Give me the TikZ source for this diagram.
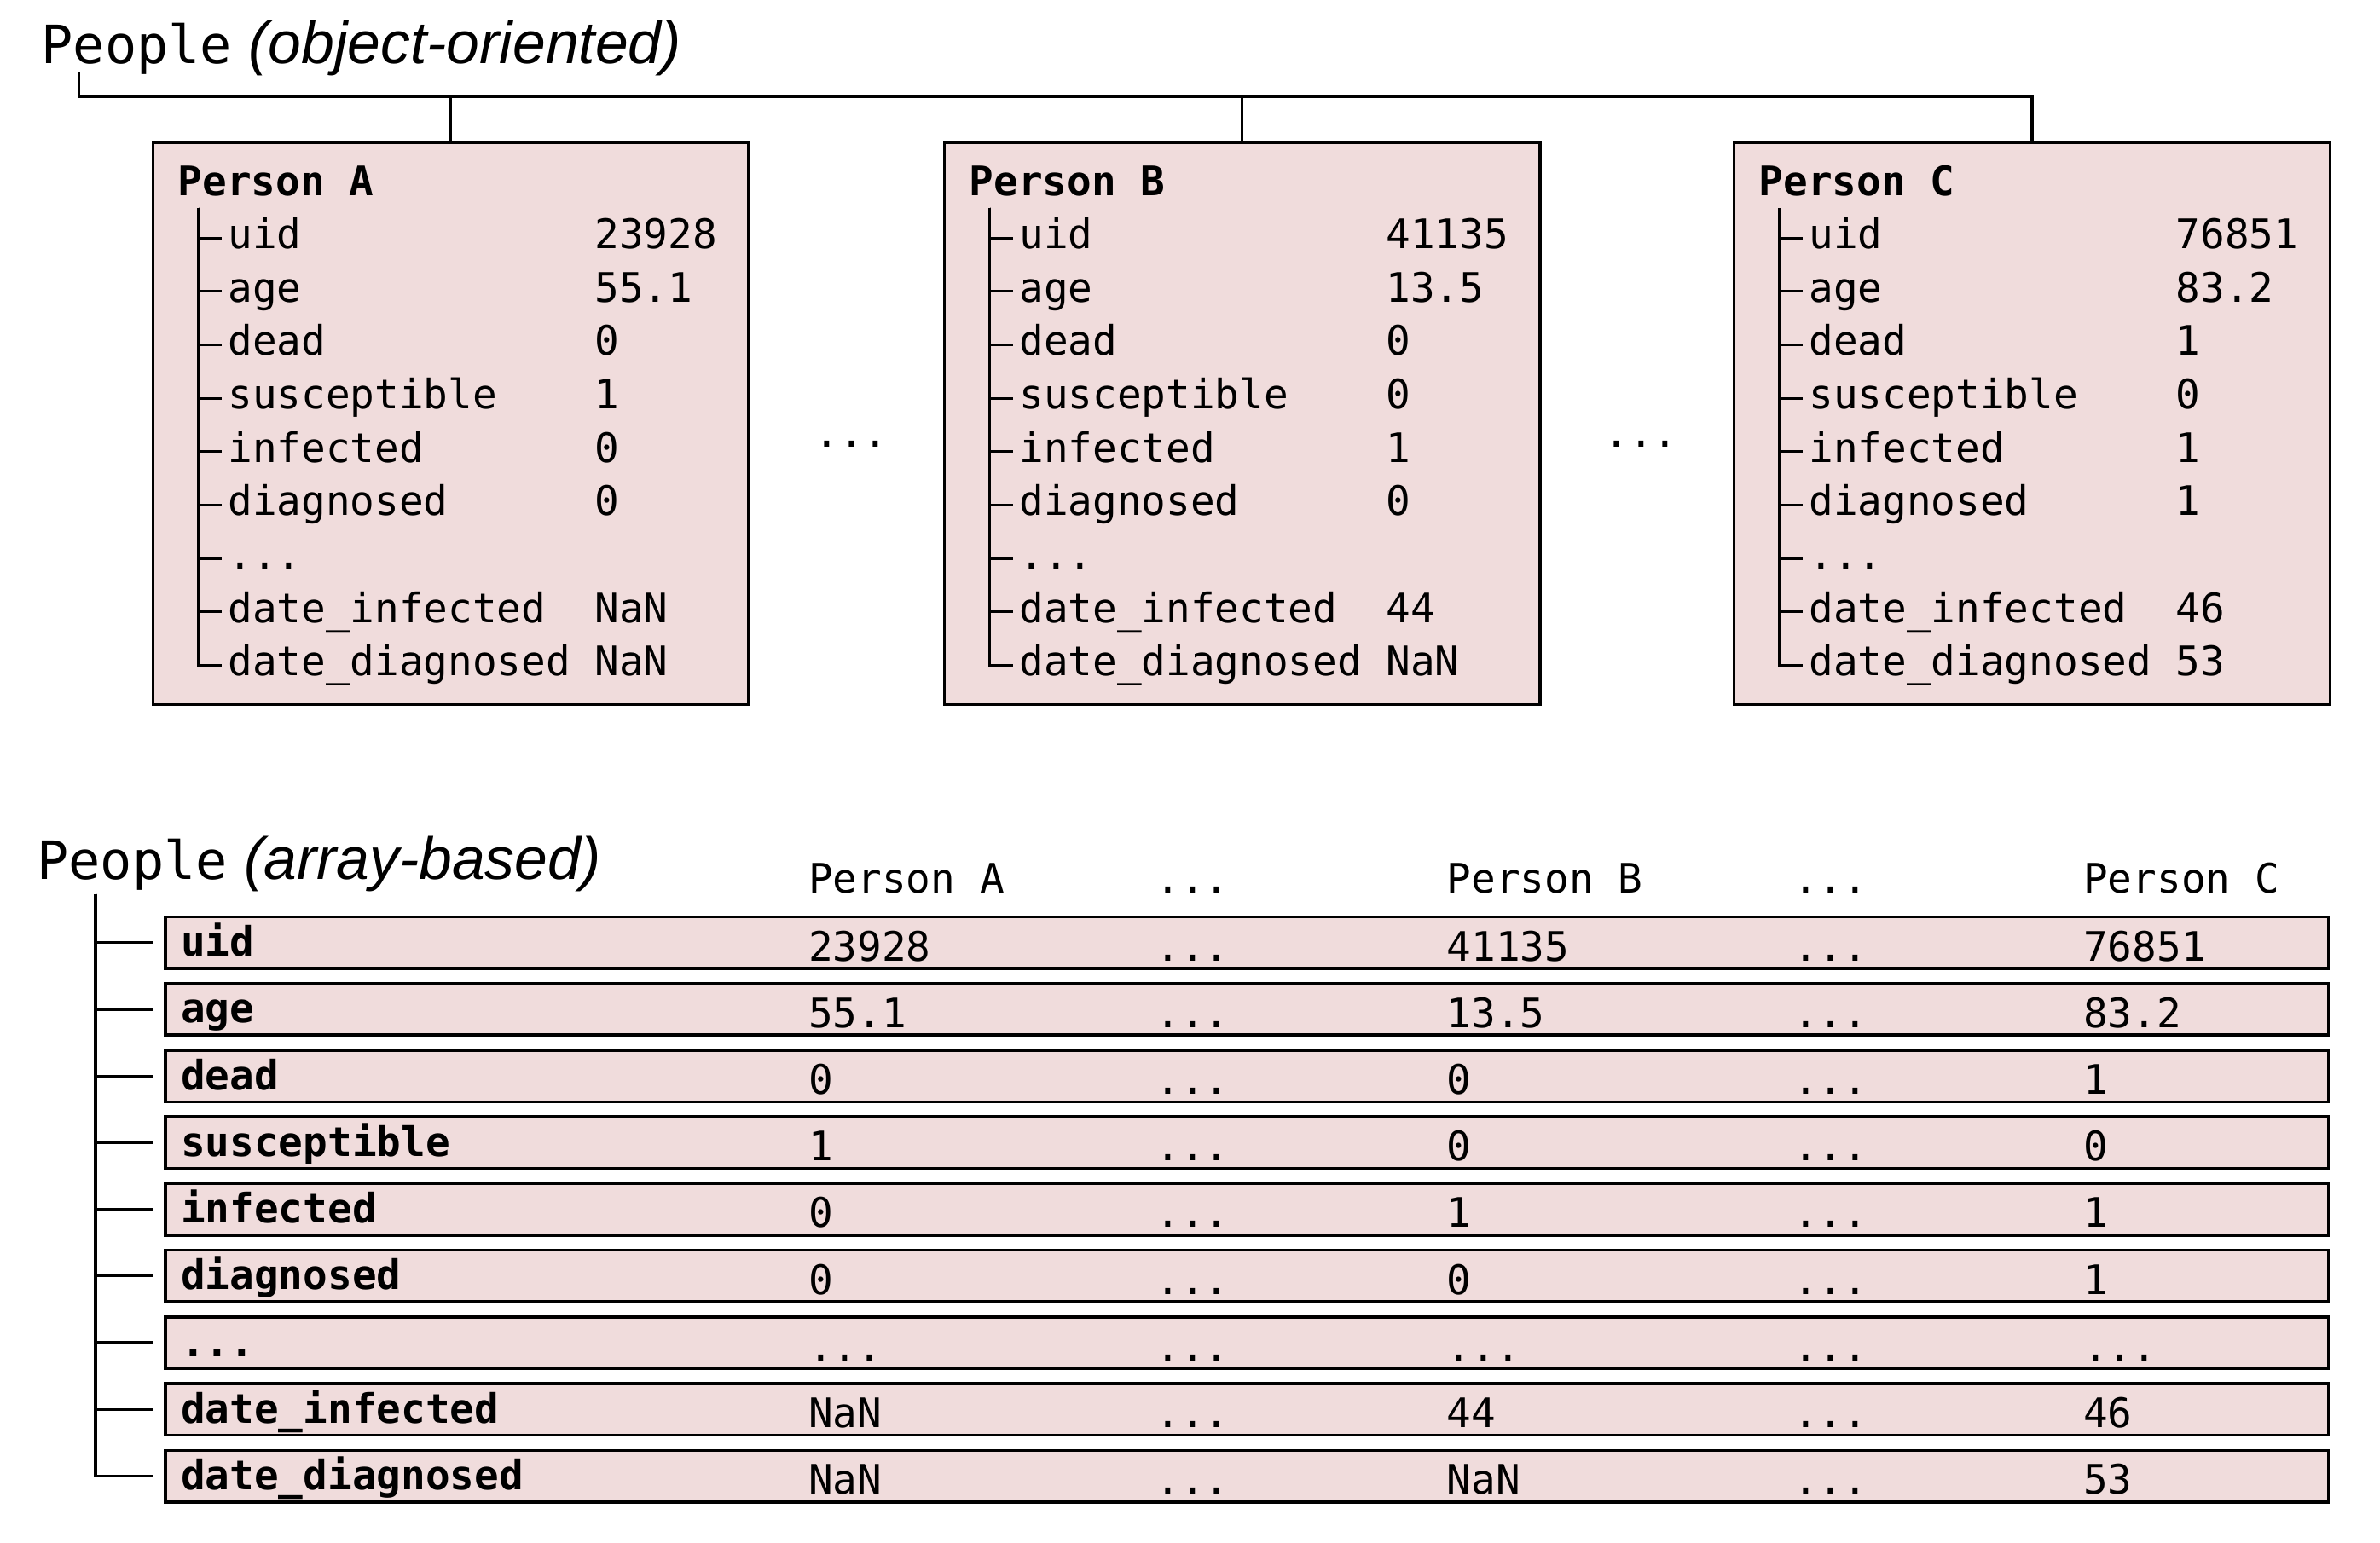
\documentclass[tikz,border=0pt]{standalone}
\usepackage{fontspec}
\setmainfont{Liberation Sans}
\setmonofont{DejaVu Sans Mono}
\usetikzlibrary{positioning}
\definecolor{cellpink}{RGB}{240,220,220}
\newcommand\fieldfont{\fontsize{13.4}{16}\selectfont\ttfamily}
\newcommand\titlefont{\fontsize{17.4}{20}\selectfont\ttfamily}
\newcommand\titleit{\fontsize{19.6}{22}\selectfont\rmfamily\itshape}
\newcommand\skipped{...}
\tikzset{
  txt/.style={anchor=west,inner sep=0pt,text height=10pt,text depth=3pt,font=\fieldfont},
  btxt/.style={txt,font=\fieldfont\bfseries},
  personbox/.style={draw,line width=1pt,fill=cellpink,anchor=north west,inner sep=0pt,minimum width=196.5pt,minimum height=185.5pt},
  rowbox/.style={draw,line width=1pt,fill=cellpink,anchor=north west,inner sep=0pt,minimum width=713.5pt,minimum height=17pt},
  wire/.style={line width=0.9pt}
}
\begin{document}
\begin{tikzpicture}[x=0.5pt,y=-0.5pt]
\useasboundingbox (0,0) rectangle (1570,1018);

\node[anchor=base west,inner sep=0pt] (titleOO) at (27,42) {\titlefont People\titleit\ (object-oriented)};
\coordinate (trunk) at (52,48);
\coordinate (bus) at (52,64);

\foreach \p/\bx in {A/100,B/622,C/1143} {
  \node[personbox] (box\p) at (\bx,93) {};
  \node[btxt] (head\p) at (\bx+17,122) {Person \p};
  \coordinate (tree\p) at (\bx+31,137);
  \foreach \f [count=\k from 0] in {uid,age,dead,susceptible,infected,diagnosed,\skipped,date\_infected,date\_diagnosed} {
    \node[txt] (lab\p\k) at (\bx+50,157+35.25*\k) {\f};
    \draw[wire,shorten >=2pt] (tree\p) |- (lab\p\k.west);
  }
}
\draw[wire] (trunk) -- (bus) -| (boxC.north);
\foreach \p in {A,B}
  \draw[wire] (box\p.north) -- (box\p.north |- bus);

\foreach \p/\bx/\vals in {A/100/{23928,55.1,0,1,0,0,{},NaN,NaN},B/622/{41135,13.5,0,0,1,0,{},44,NaN},C/1143/{76851,83.2,1,0,1,1,{},46,53}} {
  \foreach \v [count=\k from 0] in \vals
    \node[txt] (val\p\k) at (\bx+292,157+35.25*\k) {\v};
}
\node[txt] (dotsAB) at (537,288) {\skipped};
\node[txt] (dotsBC) at (1058,288) {\skipped};

\node[anchor=base west,inner sep=0pt] (titleAB) at (24,580) {\titlefont People\titleit\ (array-based)};
\coordinate (root) at (63,590);

\foreach \c/\cx/\h in {colA/533/Person A,colAB/762/\skipped,colB/954/Person B,colBC/1183/\skipped,colC/1374/Person C}
  \node[txt] (\c) at (\cx,582) {\h};

\foreach \f [count=\k from 0] in {uid,age,dead,susceptible,infected,diagnosed,\skipped,date\_infected,date\_diagnosed} {
  \node[rowbox] (row\k) at (108,604+44*\k) {};
  \node[btxt] (rowlab\k) at (119,624+44*\k) {\f};
  \draw[wire,shorten >=3.5pt] (root) |- (row\k.west);
}

\foreach \c/\cx/\vals in {A/533/{23928,55.1,0,1,0,0,\skipped,NaN,NaN},AB/762/{\skipped,\skipped,\skipped,\skipped,\skipped,\skipped,\skipped,\skipped,\skipped},B/954/{41135,13.5,0,0,1,0,\skipped,44,NaN},BC/1183/{\skipped,\skipped,\skipped,\skipped,\skipped,\skipped,\skipped,\skipped,\skipped},C/1374/{76851,83.2,1,0,1,1,\skipped,46,53}} {
  \foreach \v [count=\k from 0] in \vals
    \node[txt] (cell\c\k) at (\cx,627+44*\k) {\v};
}
\end{tikzpicture}
\end{document}
